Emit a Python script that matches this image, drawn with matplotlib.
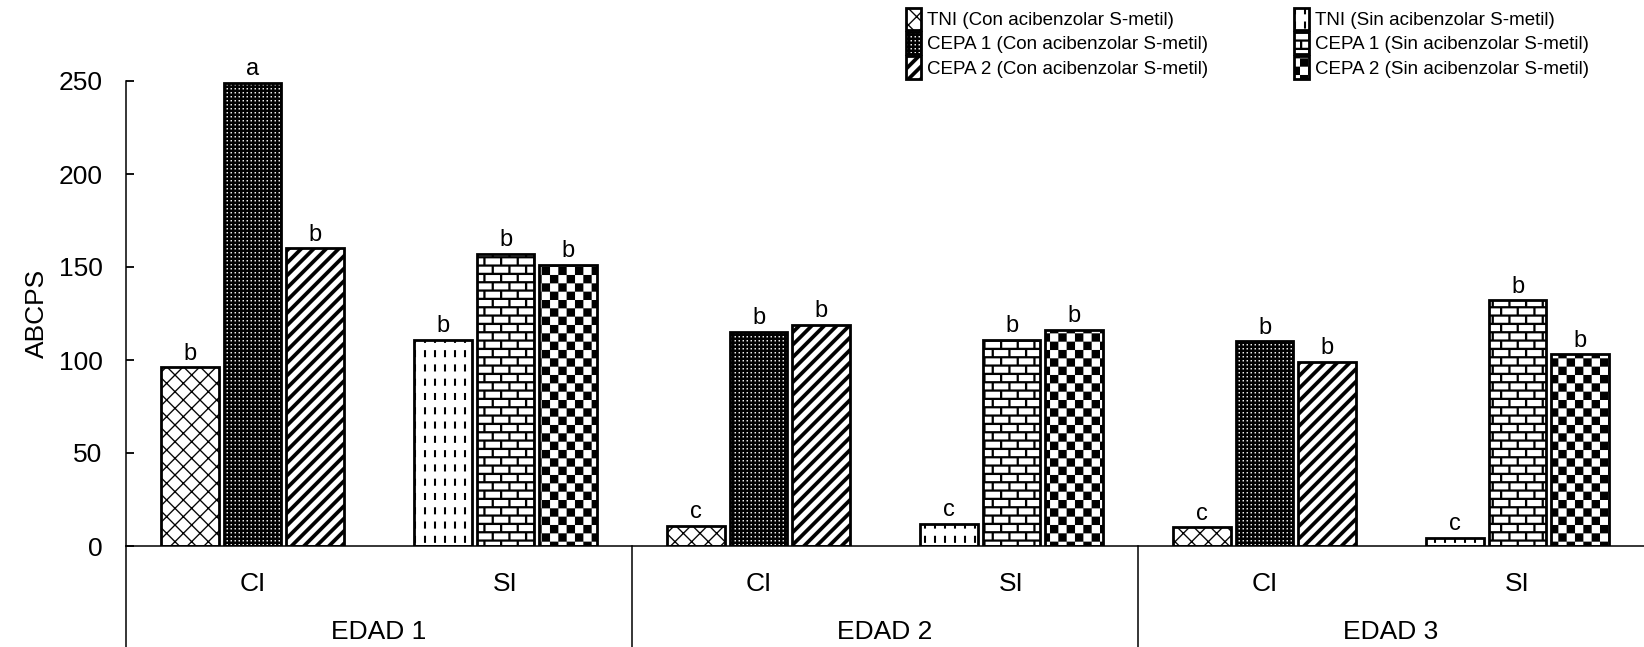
import warnings
import numpy as np
import matplotlib
matplotlib.use('Agg')
import matplotlib.pyplot as plt  # noqa E402
import matplotlib.hatch as mhatch  # noqa E402
import matplotlib.transforms as mtransforms  # noqa E402
from matplotlib.path import Path  # noqa E402

# custom hatch letters are not in matplotlib's list, silence the warning
warnings.filterwarnings('ignore')

edades = ['EDAD 1', 'EDAD 2', 'EDAD 3']
inductor = ['CI', 'SI']

# ABCPS, one value per edad
con_tni = [96, 11, 10]
con_cepa1 = [249, 115, 110]
con_cepa2 = [160, 119, 99]
sin_tni = [111, 12, 4.5]
sin_cepa1 = [157, 111, 132]
sin_cepa2 = [151, 116, 103]

# letters of mean separation
con_tni_let = ['b', 'c', 'c']
con_cepa1_let = ['a', 'b', 'b']
con_cepa2_let = ['b', 'b', 'b']
sin_tni_let = ['b', 'c', 'c']
sin_cepa1_let = ['b', 'b', 'b']
sin_cepa2_let = ['b', 'b', 'b']

labels = ['TNI (Con acibenzolar S-metil)', 'CEPA 1 (Con acibenzolar S-metil)',
          'CEPA 2 (Con acibenzolar S-metil)', 'TNI (Sin acibenzolar S-metil)',
          'CEPA 1 (Sin acibenzolar S-metil)', 'CEPA 2 (Sin acibenzolar S-metil)']


# ---- hand made hatch tiles (unit square = one 100 px tile) ----
def rect(x0, y0, x1, y1):
    return [(x0, y0), (x1, y0), (x1, y1), (x0, y1)]


def bands(n, hh, slope):
    out = []
    for k in range(-n, 2 * n + 1):
        c = k / n
        out.append([(-0.1, slope * -0.1 + c - hh), (1.1, slope * 1.1 + c - hh),
                    (1.1, slope * 1.1 + c + hh), (-0.1, slope * -0.1 + c + hh)])
    return out


class TileHatch(mhatch.HatchPatternBase):
    char = None

    def __init__(self, hatch, density):
        polys = self.polygons() if (self.char and self.char in hatch) else []
        verts, codes = [], []
        for p in polys:
            verts += list(p) + [p[0]]
            codes += [Path.MOVETO] + [Path.LINETO] * (len(p) - 1) + [Path.CLOSEPOLY]
        self._verts = np.array(verts, dtype=float).reshape(-1, 2)
        self._codes = np.array(codes, dtype=Path.code_type)
        self.num_vertices = len(verts)

    def set_vertices_and_codes(self, vertices, codes):
        vertices[:] = self._verts
        codes[:] = self._codes


class Cross(TileHatch):
    char = 'K'

    def polygons(self):
        return bands(6, 0.009, 1) + bands(6, 0.009, -1)


class Diagonal(TileHatch):
    char = 'D'

    def polygons(self):
        return bands(8, 0.026, 1)


class Dots(TileHatch):
    char = 'G'

    def polygons(self):
        n, t = 25, 0.025
        out = [rect(0, i / n, 1, i / n + t) for i in range(n)]
        for i in range(n):
            for j in range(n):
                out.append(rect(j / n, i / n + t, j / n + t, (i + 1) / n))
        return out


class Dashes(TileHatch):
    char = 'V'

    def polygons(self):
        return [rect(j / 10 + 0.04, i / 7, j / 10 + 0.06, i / 7 + 0.07)
                for i in range(7) for j in range(10)]


class Bricks(TileHatch):
    char = 'B'

    def polygons(self):
        rows, t = 12, 0.022
        out = []
        for i in range(rows):
            y0 = i / rows
            out.append(rect(0, y0, 1, y0 + t))
            off = (i % 2) / 12
            for j in range(6):
                x = j / 6 + off
                out.append(rect(x, y0 + t, x + t, y0 + 1 / rows))
        return out


class Checker(TileHatch):
    char = 'Q'

    def polygons(self):
        n = 12
        return [rect(j / n, i / n, (j + 1) / n, (i + 1) / n)
                for i in range(n) for j in range(n) if (i + j) % 2 == 0]


mhatch._hatch_types.extend([Cross, Diagonal, Dots, Dashes, Bricks, Checker])

plt.rcParams['font.family'] = ['Liberation Sans', 'DejaVu Sans']
plt.rcParams['hatch.linewidth'] = 0.05

fig = plt.figure(figsize=(16.44, 6.47), dpi=100)
ax = fig.add_axes([126 / 1644, 101 / 647, 1518 / 1644, 465 / 647])

width = 0.229
pitch = 0.247
base = np.arange(len(edades)) * 2 + 0.5

series = [
    (con_tni, con_tni_let, 0, -1, 'K'),
    (con_cepa1, con_cepa1_let, 0, 0, 'G'),
    (con_cepa2, con_cepa2_let, 0, 1, 'D'),
    (sin_tni, sin_tni_let, 1, -1, 'V'),
    (sin_cepa1, sin_cepa1_let, 1, 0, 'B'),
    (sin_cepa2, sin_cepa2_let, 1, 1, 'Q'),
]

handles = []
for (vals, lets, sub, k, hatch), lab in zip(series, labels):
    x = base + sub + k * pitch
    bars = ax.bar(x, vals, width, facecolor='white', edgecolor='black',
                  linewidth=2.0, hatch=hatch, label=lab, zorder=2)
    handles.append(bars)
    for xi, v, l in zip(x, vals, lets):
        ax.text(xi, v + 1.5, l, ha='center', va='bottom', fontsize=17)

ax.set_xlim(0, 6)
ax.set_ylim(0, 250)
ax.set_yticks(np.arange(0, 251, 50))
ax.set_xticks([])
for s in ['top', 'right']:
    ax.spines[s].set_visible(False)
ax.spines['left'].set_linewidth(1.1)
ax.spines['bottom'].set_linewidth(1.1)
ax.tick_params(axis='y', direction='in', length=5.5, width=1.3, labelsize=19, pad=17)
ax.set_ylabel('ABCPS', fontsize=19, labelpad=7)

# category axis below zero
trans = mtransforms.blended_transform_factory(ax.transData, fig.transFigure)
bottom = 101 / 647
for xs in [0, 2, 4]:
    ax.plot([xs, xs], [bottom, 0], color='black', lw=1.1, transform=trans, clip_on=False)

tx = mtransforms.blended_transform_factory(ax.transData, ax.transAxes)
for i, ed in enumerate(edades):
    for j, ind in enumerate(inductor):
        ax.text(base[i] + j, -0.082, ind, transform=tx, ha='center', va='center', fontsize=19)
    ax.text(base[i] + 0.5, -0.185, ed, transform=tx, ha='center', va='center', fontsize=19)

fig.legend(handles=handles, loc='upper left', bbox_to_anchor=(906 / 1644, 1 - 8 / 647),
           ncol=2, frameon=False, fontsize=13.5, handlelength=0.8, handleheight=1.45,
           labelspacing=0.1, handletextpad=0.3, columnspacing=4.6, borderpad=0,
           borderaxespad=0)

fig.savefig('out.png', dpi=100)
plt.close(fig)
